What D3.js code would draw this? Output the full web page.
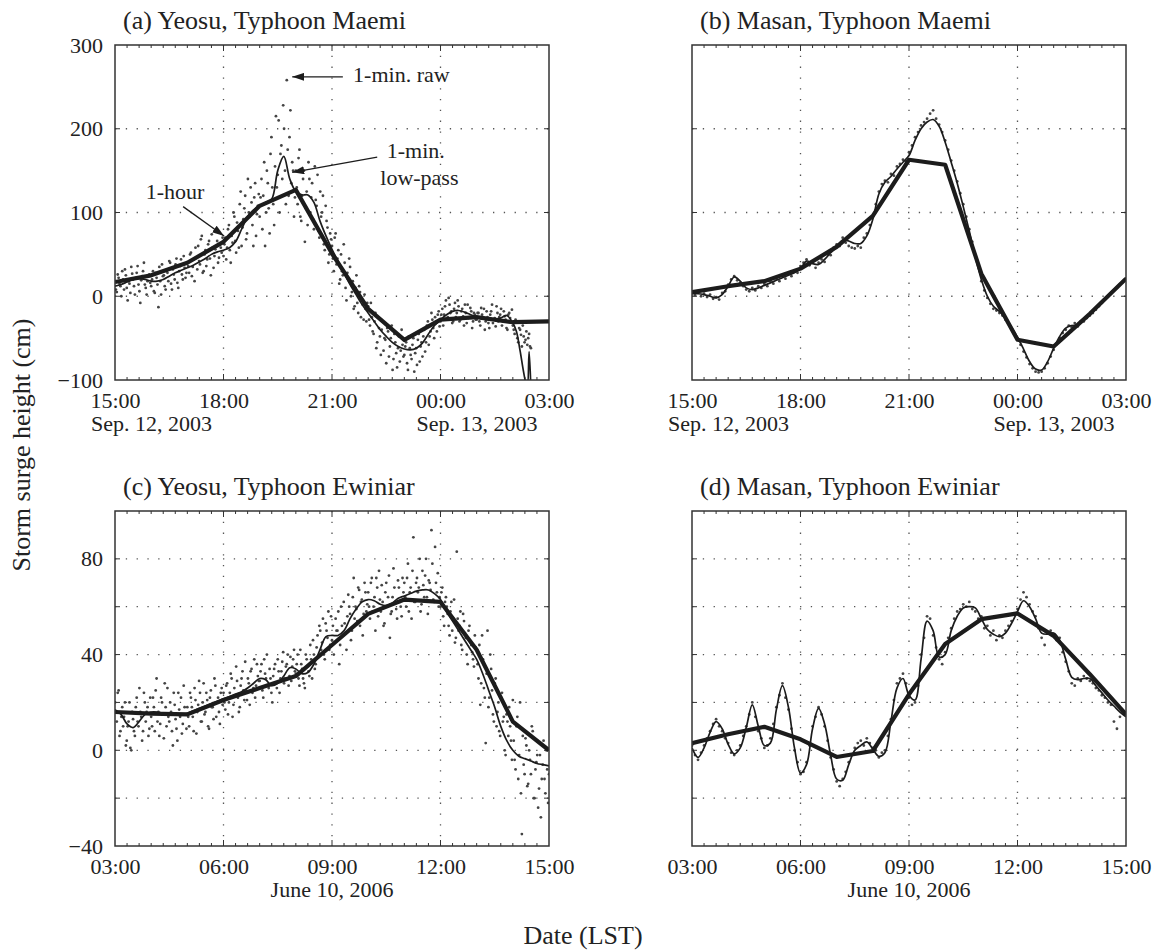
<!DOCTYPE html>
<html>
<head>
<meta charset="utf-8">
<script src="https://cdn.jsdelivr.net/npm/d3@7"></script>
<style>
  body { margin: 0; background: #fff; }
  svg { font-family: "Liberation Serif", "Times New Roman", serif; }
</style>
</head>
<body>
<script>
// tick labels
var maemiTimes = ['15:00', '18:00', '21:00', '00:00', '03:00'];
var ewiniarTimes = ['03:00', '06:00', '09:00', '12:00', '15:00'];
var maemiYTicks = [-100, 0, 100, 200, 300];
var maemiGrid = [0, 100, 200];
var ewiniarYTicks = [-40, 0, 40, 80];
var ewiniarGrid = [-20, 0, 20, 40, 60, 80];

// 1-hour values (one per hour, 13 points)
var hourA = [17, 25, 40, 65, 108, 127, 51, -15, -52, -28, -25, -31, -30];
var hourB = [5, 12, 18, 33, 59, 96, 163, 157, 27, -52, -60, -21, 21];
var hourC = [16, 15.3, 15, 21, 26, 31, 44, 57, 63, 62, 42, 12, 0];
var hourD = [3, 6.7, 9.8, 4.6, -2.8, -0.3, 23.4, 44.4, 54.8, 57.2, 47.8, 31.8, 15];

// 1-min low-pass, read every 10 minutes
var lowA = [12, 14, 17, 20, 21, 20,
  18, 18, 20, 24, 28, 31,
  34, 37, 41, 45, 50, 53,
  55, 58, 65, 80, 95, 103,
  108, 112, 116, 150, 167, 140,
  125, 121, 121, 112, 90, 72,
  56, 42, 28, 14, 2, -10,
  -20, -30, -40, -48, -55, -60,
  -63, -64, -62, -56, -45, -35,
  -28, -22, -18, -17, -19, -22,
  -25, -27, -28, -28, -26, -23];
// end of the Yeosu record, [minute, value]
var lowATail = [[660, -32], [666, -42], [672, -65], [679, -95], [684, -110], [687, -66], [690, -112]];

var lowB = [3, 3, 2, 0, -2, 2,
  12, 23, 18, 10, 8, 10,
  13, 16, 19, 22, 25, 28,
  33, 42, 39, 38, 44, 52,
  59, 67, 66, 63, 63, 72,
  92, 122, 136, 143, 152, 160,
  168, 186, 200, 208, 211, 203,
  184, 160, 135, 107, 78, 47,
  20, 0, -12, -18, -26, -37,
  -49, -63, -78, -87, -88, -78,
  -62, -48, -38, -35, -34, -28,
  -22, -15, -7, 1, 8, 15,
  22];

var lowC = [17, 15, 11, 9.5, 12, 15,
  16, 16, 15.5, 15, 15, 15,
  15.5, 16.5, 17.5, 18.5, 19.5, 20.5,
  21.5, 22.5, 23.5, 24.5, 26, 28,
  30, 29.5, 27, 28, 31, 34.5,
  34, 32, 32.5, 36, 42, 47.5,
  48, 48, 50, 55, 59, 62,
  63, 62.5, 61, 60.5, 61.5, 63.5,
  64.5, 65.5, 66.5, 67, 67, 65.5,
  63, 58, 54, 50, 46, 42,
  38, 32, 25, 18, 10, 4,
  0, -2.5, -3.5, -4.5, -5.5, -6,
  -6.5];

var lowD = [1, -3, 1, 7.5, 12, 9,
  2.5, -1.5, 1, 9.5, 19, 10,
  2, 3, 17, 27, 18, 1,
  -9.5, -6, 9, 17.5, 11, -2,
  -12, -12.5, -6, 0, 2, 3.5,
  0.5, -2.5, -1, 12, 26, 30,
  23, 21, 38, 54, 50, 39,
  40, 50, 56, 59.5, 60, 59.5,
  55, 50.5, 48.5, 47.5, 49, 53,
  58, 62.5, 60, 55, 49, 48.5,
  49, 46, 38, 30.5, 29.5, 30,
  30, 27, 24, 21, 18.5, 16,
  14];

// 1-min raw. Yeosu: every 3 minutes from 15:00 / 03:00, plus a second set
// 1.5 minutes later. Masan: every 5 minutes.
var rawA = [18, 5, 22, 12, 30, 8, 25, -5, 15, 35, 20, 2, 28, 14, -8, 24, 40, 10, 18, 26,
  12, 30, 4, 22, -13, 18, 38, 25, 8, 28, 42, 15, 32, 20, 45, 10, 36, 26, 48, 22,
  40, 28, 52, 35, 18, 46, 60, 38, 72, 30, 55, 44, 66, 25, 58, 48, 78, 40, 62, 52,
  48, 70, 58, 85, 40, 64, 95, 52, 78, 110, 60, 92, 120, 75, 100, 130, 85, 118, 72, 108,
  95, 140, 120, 60, 150, 105, 170, 130, 85, 215, 145, 100, 180, 228, 150, 258, 120, 222, 160, 95,
  150, 110, 175, 90, 140, 65, 125, 160, 100, 135, 80, 115, 145, 70, 95, 120, 55, 90, 40, 75,
  60, 30, 75, 45, 15, 50, 25, 40, -5, 20, 35, 5, -15, 10, -8, 12, -25, -10, 2, -30,
  -12, -35, -25, -45, -20, -55, -38, -70, -30, -50, -80, -42, -60, -35, -75, -55, -85, -48, -65, -58,
  -70, -55, -88, -62, -75, -50, -68, -82, -45, -60, -72, -40, -55, -30, -48, -20, -38, -25, -42, -18,
  -30, -15, -22, -5, -25, -10, -18, -30, -8, -20, -12, -28, -15, -35, -20, -10, -25, -18, -30, -22,
  -28, -20, -35, -22, -15, -30, -25, -38, -18, -32, -26, -12, -30, -22, -35, -18, -28, -40, -20, -30,
  -35, -45, -30, -55, -40, -60, -48, -52, -58, -45, -62];
var rawA2 = [8, 26, 15, 0, 20, 32, 10, 18, 4, 27, 12, 22, 36, 6, 19, 30, 14, 2, 24, 16,
  20, 6, 28, 14, 35, 2, 24, 12, 30, 18, 40, 8, 26, 38, 16, 30, 44, 20, 34, 28,
  36, 50, 24, 44, 58, 32, 42, 68, 28, 50, 36, 62, 45, 74, 34, 56, 66, 46, 58, 70,
  62, 44, 80, 55, 72, 100, 66, 88, 58, 125, 82, 105, 68, 140, 95, 112, 60, 135, 98, 122,
  118, 80, 160, 100, 135, 75, 190, 110, 155, 130, 210, 170, 140, 200, 110, 175, 190, 135, 150, 118,
  130, 165, 95, 120, 150, 105, 85, 140, 118, 92, 155, 108, 78, 125, 100, 62, 108, 82, 50, 68,
  45, 70, 38, 55, 20, 30, 62, 10, 28, 45, 0, 18, -12, 25, -20, 5, -5, -28, -15, -8,
  -28, -8, -42, -30, -62, -25, -48, -40, -65, -52, -38, -72, -50, -88, -45, -68, -62, -78, -40, -72,
  -60, -80, -48, -70, -58, -90, -62, -52, -78, -55, -48, -66, -35, -58, -42, -28, -50, -32, -22, -36,
  -22, -35, -12, -28, -2, -20, -32, -15, -25, -5, -30, -18, -24, -10, -32, -26, -14, -38, -20, -28,
  -20, -30, -14, -26, -40, -18, -32, -22, -10, -28, -36, -20, -25, -15, -30, -24, -38, -22, -26, -16,
  -40, -28, -50, -38, -46, -35, -55, -42, -50, -60];

var rawB = [4, 1, 5, 0, 3, -1, 2, -3, -1, -4, 4, 6,
  14, 20, 24, 19, 16, 12, 8, 6, 10, 7, 12, 10,
  15, 12, 18, 15, 21, 18, 24, 21, 27, 24, 31, 28,
  36, 40, 44, 37, 41, 34, 40, 44, 41, 50, 49, 58,
  62, 60, 70, 64, 60, 58, 57, 60, 58, 70, 75, 85,
  95, 110, 125, 134, 138, 136, 146, 144, 155, 158, 163, 161,
  172, 180, 190, 196, 204, 208, 212, 218, 222, 212, 205, 196,
  186, 175, 162, 150, 137, 123, 110, 95, 80, 65, 49, 35,
  18, 7, -2, -9, -15, -17, -20, -23, -28, -33, -39, -45,
  -51, -58, -66, -73, -81, -86, -90, -91, -90, -86, -80, -72,
  -64, -57, -50, -44, -40, -35, -37, -32, -36, -30, -30, -26,
  -23, -20, -16, -12, -8, -4, 0, 3, 7, 10, 14, 17,
  21];

var rawC = [20, 12, 25, 8, 18, 14, 2, 10, 20, 0, 13, 6, 22, 10, 16, 4, 24, 12, 18, 9,
  14, 22, 8, 30, 16, 11, 20, 5, 18, 26, 12, 16, 2, 19, 9, 24, 14, 7, 27, 15,
  18, 10, 22, 14, 26, 7, 19, 24, 12, 28, 16, 21, 9, 25, 18, 30, 14, 22, 11, 26,
  24, 17, 28, 20, 32, 14, 26, 35, 22, 18, 30, 25, 37, 21, 28, 33, 24, 38, 27, 31,
  29, 36, 22, 32, 40, 26, 30, 20, 34, 28, 38, 24, 33, 41, 30, 36, 27, 39, 35, 42,
  32, 40, 27, 36, 30, 26, 38, 33, 44, 30, 40, 36, 48, 52, 42, 55, 38, 50, 58, 44,
  46, 40, 55, 50, 36, 60, 48, 53, 42, 65, 57, 50, 72, 60, 54, 67, 62, 48, 70, 58,
  66, 55, 72, 60, 50, 68, 75, 58, 62, 53, 70, 64, 47, 58, 76, 62, 55, 68, 60, 72,
  70, 60, 78, 66, 55, 89, 62, 72, 68, 58, 75, 64, 80, 57, 70, 92, 63, 85, 66, 60,
  60, 68, 52, 64, 57, 48, 62, 55, 45, 83, 50, 58, 42, 54, 47, 36, 52, 44, 38, 48,
  42, 30, 19, 48, 26, 3, 50, 22, 34, 15, 28, 10, 20, 6, 24, 14, -2, 12, 18, 4,
  21, -4, 10, -12, 20, -35, -6, 5, -15, 0, -10, 8, -20, -5, -24, -2, -12, 4, -18, -8,
  -10];
var rawC2 = [16, 24, 6, 14, 10, 20, 4, 12, 1, 16, 8, 18, 12, 26, 14, 8, 20, 16, 6, 22,
  10, 18, 25, 12, 6, 22, 15, 28, 10, 14, 20, 8, 24, 13, 4, 17, 22, 11, 18, 9,
  14, 24, 18, 8, 21, 16, 29, 12, 20, 15, 24, 10, 22, 18, 13, 27, 20, 16, 24, 19,
  20, 27, 15, 24, 30, 19, 23, 29, 16, 27, 33, 21, 25, 30, 19, 34, 26, 22, 36, 29,
  33, 25, 38, 30, 27, 34, 24, 31, 36, 26, 33, 30, 37, 28, 35, 40, 31, 29, 38, 33,
  36, 30, 42, 34, 28, 40, 35, 31, 38, 46, 34, 43, 39, 50, 45, 40, 53, 47, 42, 56,
  52, 45, 50, 58, 44, 52, 62, 49, 56, 60, 46, 64, 55, 59, 68, 52, 63, 57, 66, 61,
  60, 70, 58, 64, 72, 56, 63, 69, 52, 66, 60, 73, 57, 64, 68, 59, 71, 62, 56, 66,
  64, 72, 58, 68, 75, 62, 70, 66, 80, 61, 69, 73, 64, 71, 67, 78, 62, 70, 74, 64,
  66, 56, 62, 60, 52, 58, 50, 63, 47, 55, 52, 44, 57, 49, 40, 50, 45, 41, 35, 43,
  36, 44, 28, 38, 22, 32, 18, 40, 25, 12, 30, 16, 8, 22, 12, 0, 15, 6, 10, -4,
  4, -8, 14, -2, -18, 6, -10, 2, -14, -4, 10, -20, -8, -2, -16, -28, -6, -12, 0, -22];

var rawD = [2, -2, -4, -1, 2, 5, 8, 11, 13, 10, 8, 5,
  3, -1, -2, 0, 2, 6, 10, 15, 20, 14, 8, 5,
  1, 2, 5, 11, 18, 23, 28, 22, 17, 9, 0, -5,
  -10, -9, -5, 2, 10, 14, 18, 15, 10, 4, -3, -8,
  -13, -15, -12, -9, -5, -2, 1, 3, 4, 2, 5, 3,
  1, 0, -3, -1, 0, 6, 13, 21, 28, 30, 32, 28,
  22, 19, 20, 27, 40, 47, 56, 55, 48, 43, 38, 36,
  41, 47, 51, 55, 58, 59, 61, 60, 62, 59, 58, 55,
  56, 51, 52, 48, 50, 46, 48, 47, 50, 52, 54, 57,
  59, 63, 66, 64, 61, 58, 56, 51, 47, 44, 49, 50,
  48, 46, 47, 41, 37, 33, 28, 27, 30, 29, 31, 30,
  29, 28, 26, 25, 23, 22, 20, 19, 12, 9, 14, 16,
  15];

// labels in panel (a), positions in [minute, cm]
var notes = [
  {text: '1-min. raw', at: [395, 256], anchor: 'start'},
  {text: '1-min.', at: [499, 165], anchor: 'middle'},
  {text: 'low-pass', at: [505, 133], anchor: 'middle'},
  {text: '1-hour', at: [51, 116], anchor: 'start'}
];
var arrows = [
  {from: [378, 262], to: [294, 262]},
  {from: [435, 166], to: [294, 148]},
  {from: [113, 107], to: [181, 72]}
];

var W = 434, H = 335;
var ink = '#1c1c1c';

var panels = [
  {title: '(a) Yeosu, Typhoon Maemi', ox: 115, oy: 45, times: maemiTimes, yDomain: [-100, 300],
    yTicks: maemiYTicks, grid: maemiGrid, showY: true, hourly: hourA, low: lowA, tail: lowATail,
    raws: [[rawA, 3, 0], [rawA2, 3, 1.5]],
    dates: [['Sep. 12, 2003', 0, 'start'], ['Sep. 13, 2003', 540, 'start']], notes: true},
  {title: '(b) Masan, Typhoon Maemi', ox: 692, oy: 45, times: maemiTimes, yDomain: [-100, 300],
    yTicks: maemiYTicks, grid: maemiGrid, showY: false, hourly: hourB, low: lowB, tail: [],
    raws: [[rawB, 5, 0]],
    dates: [['Sep. 12, 2003', 0, 'start'], ['Sep. 13, 2003', 540, 'start']]},
  {title: '(c) Yeosu, Typhoon Ewiniar', ox: 115, oy: 511, times: ewiniarTimes, yDomain: [-40, 100],
    yTicks: ewiniarYTicks, grid: ewiniarGrid, showY: true, hourly: hourC, low: lowC, tail: [],
    raws: [[rawC, 3, 0], [rawC2, 3, 1.5]],
    dates: [['June 10, 2006', 360, 'middle']]},
  {title: '(d) Masan, Typhoon Ewiniar', ox: 692, oy: 511, times: ewiniarTimes, yDomain: [-40, 100],
    yTicks: ewiniarYTicks, grid: ewiniarGrid, showY: false, hourly: hourD, low: lowD, tail: [],
    raws: [[rawD, 5, 0]],
    dates: [['June 10, 2006', 360, 'middle']]}
];

var svg = d3.select('body').append('svg')
  .attr('width', 1166)
  .attr('height', 951);

var defs = svg.append('defs');
defs.append('marker')
  .attr('id', 'arrow')
  .attr('viewBox', '0 0 12 8')
  .attr('refX', 12).attr('refY', 4)
  .attr('markerWidth', 12).attr('markerHeight', 8)
  .attr('markerUnits', 'userSpaceOnUse')
  .attr('orient', 'auto')
  .append('path').attr('d', 'M0,0L12,4L0,8Z').attr('fill', ink);

var serif = '"Liberation Serif", "Times New Roman", serif';

panels.forEach(function(p, i) {
  var g = svg.append('g').attr('transform', 'translate(' + p.ox + ',' + p.oy + ')');
  var x = d3.scaleLinear().domain([0, 720]).range([0, W]);
  var y = d3.scaleLinear().domain(p.yDomain).range([H, 0]);

  defs.append('clipPath').attr('id', 'clip' + i)
    .append('rect').attr('width', W).attr('height', H);

  // dotted grid
  g.selectAll('.vgrid').data([180, 360, 540]).enter().append('line')
    .attr('x1', function(d) { return x(d); }).attr('x2', function(d) { return x(d); })
    .attr('y1', 0).attr('y2', H)
    .attr('stroke', '#555').attr('stroke-width', 1.3).attr('stroke-dasharray', '1.3,9.5');
  g.selectAll('.hgrid').data(p.grid).enter().append('line')
    .attr('y1', function(d) { return y(d); }).attr('y2', function(d) { return y(d); })
    .attr('x1', 0).attr('x2', W)
    .attr('stroke', '#555').attr('stroke-width', 1.3).attr('stroke-dasharray', '1.3,9.5');

  // small ticks on the frame
  var minor = d3.range(20, 720, 20);
  g.selectAll('.tt').data(minor).enter().append('line')
    .attr('x1', function(d) { return x(d); }).attr('x2', function(d) { return x(d); })
    .attr('y1', 0).attr('y2', function(d) { return d % 180 === 0 ? 6 : 3; })
    .attr('stroke', '#333').attr('stroke-width', 1);
  g.selectAll('.bt').data(minor).enter().append('line')
    .attr('x1', function(d) { return x(d); }).attr('x2', function(d) { return x(d); })
    .attr('y1', H).attr('y2', function(d) { return d % 180 === 0 ? H - 6 : H - 3; })
    .attr('stroke', '#333').attr('stroke-width', 1);
  g.selectAll('.lt').data(p.grid).enter().append('line')
    .attr('y1', function(d) { return y(d); }).attr('y2', function(d) { return y(d); })
    .attr('x1', 0).attr('x2', 5).attr('stroke', '#333').attr('stroke-width', 1);
  g.selectAll('.rt').data(p.grid).enter().append('line')
    .attr('y1', function(d) { return y(d); }).attr('y2', function(d) { return y(d); })
    .attr('x1', W).attr('x2', W - 5).attr('stroke', '#333').attr('stroke-width', 1);

  var plot = g.append('g').attr('clip-path', 'url(#clip' + i + ')');

  // 1-min raw
  p.raws.forEach(function(r, k) {
    plot.selectAll('.raw' + k).data(r[0]).enter().append('circle')
      .attr('class', 'raw' + k)
      .attr('cx', function(d, j) { return x(r[2] + j * r[1]); })
      .attr('cy', function(d) { return y(d); })
      .attr('r', 1.4)
      .attr('fill', '#444');
  });

  // 1-min low-pass
  var lowPts = p.low.map(function(v, j) { return [j * 10, v]; }).concat(p.tail);
  plot.append('path').datum(lowPts)
    .attr('d', d3.line()
      .x(function(d) { return x(d[0]); })
      .y(function(d) { return y(d[1]); })
      .curve(d3.curveCatmullRom.alpha(0.5)))
    .attr('fill', 'none').attr('stroke', ink).attr('stroke-width', 1.7);

  // 1-hour
  plot.append('path').datum(p.hourly)
    .attr('d', d3.line()
      .x(function(d, j) { return x(j * 60); })
      .y(function(d) { return y(d); }))
    .attr('fill', 'none').attr('stroke', ink).attr('stroke-width', 4.2)
    .attr('stroke-linejoin', 'round');

  // frame
  g.append('rect').attr('width', W).attr('height', H)
    .attr('fill', 'none').attr('stroke', '#333').attr('stroke-width', 1.5);

  // time labels
  var xAxis = d3.axisBottom(x)
    .tickValues([0, 180, 360, 540, 720])
    .tickFormat(function(d, j) { return p.times[j]; })
    .tickSize(0).tickPadding(12);
  var xa = g.append('g').attr('transform', 'translate(0,' + H + ')').call(xAxis);
  xa.select('.domain').remove();
  xa.attr('font-size', 22).attr('font-family', serif);
  xa.selectAll('text').attr('fill', '#222');

  if (p.showY) {
    var yAxis = d3.axisLeft(y).tickValues(p.yTicks).tickSize(0).tickPadding(12);
    var ya = g.append('g').call(yAxis);
    ya.select('.domain').remove();
    ya.attr('font-size', 22).attr('font-family', serif);
    ya.selectAll('text').attr('fill', '#222');
  }

  // dates under the time labels
  p.dates.forEach(function(dd) {
    g.append('text')
      .attr('x', x(dd[1]) + (dd[2] === 'start' ? -24 : 0))
      .attr('y', H + 51)
      .attr('text-anchor', dd[2])
      .attr('font-size', 22).attr('fill', '#222')
      .text(dd[0]);
  });

  g.append('text')
    .attr('x', 8).attr('y', -16)
    .attr('font-size', 26).attr('fill', '#222')
    .text(p.title);

  if (p.notes) {
    notes.forEach(function(n) {
      g.append('text')
        .attr('x', x(n.at[0])).attr('y', y(n.at[1]))
        .attr('text-anchor', n.anchor)
        .attr('font-size', 22).attr('fill', '#222')
        .text(n.text);
    });
    arrows.forEach(function(a) {
      g.append('line')
        .attr('x1', x(a.from[0])).attr('y1', y(a.from[1]))
        .attr('x2', x(a.to[0])).attr('y2', y(a.to[1]))
        .attr('stroke', ink).attr('stroke-width', 1.3)
        .attr('marker-end', 'url(#arrow)');
    });
  }
});

svg.append('text')
  .attr('transform', 'translate(30,445) rotate(-90)')
  .attr('text-anchor', 'middle')
  .attr('font-size', 26).attr('fill', '#222')
  .text('Storm surge height (cm)');

svg.append('text')
  .attr('x', 583).attr('y', 944)
  .attr('text-anchor', 'middle')
  .attr('font-size', 26).attr('fill', '#222')
  .text('Date (LST)');
</script>
</body>
</html>
